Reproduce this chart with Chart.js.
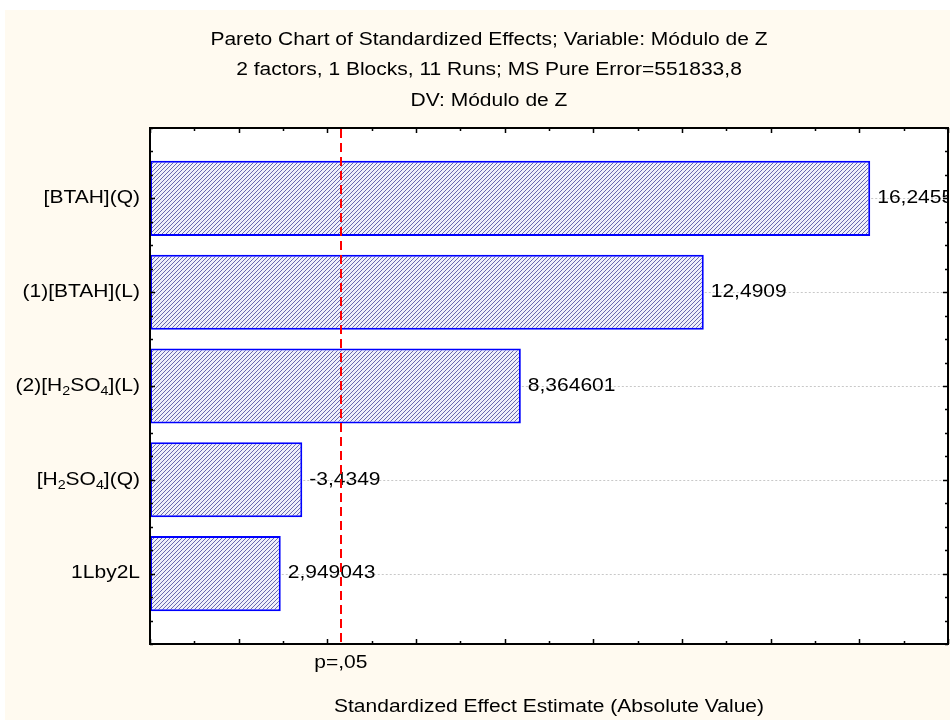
<!DOCTYPE html>
<html><head><meta charset="utf-8">
<script src="https://cdn.jsdelivr.net/npm/chart.js@4.4.0/dist/chart.umd.min.js"></script>
<style>html,body{margin:0;padding:0;background:#fff;}canvas{display:block;}</style>
</head><body>
<canvas id="c" width="950" height="720"></canvas>
<script>
// ---- data ----
const categories = ['[BTAH](Q)', '(1)[BTAH](L)', '(2)[H₂SO₄](L)', '[H₂SO₄](Q)', '1Lby2L'];
const effects = [16.2455, 12.4909, 8.364601, -3.4349, 2.949043];
const effectLabels = ['16,2455', '12,4909', '8,364601', '-3,4349', '2,949043'];
const criticalT = 4.303;
const criticalLabel = 'p=,05';
const titleLines = [
  'Pareto Chart of Standardized Effects; Variable: Módulo de Z',
  '2 factors, 1 Blocks, 11 Runs; MS Pure Error=551833,8',
  'DV: Módulo de Z'
];
const xAxisTitle = 'Standardized Effect Estimate (Absolute Value)';

const FONT = '"Liberation Sans", Arial, sans-serif';
const FS = 17.5;      // glyph height
const SX = 1.2;       // horizontal stretch of the text

// hatch pattern
function makeHatch() {
  const t = document.createElement('canvas');
  t.width = 4; t.height = 4;
  const g = t.getContext('2d');
  g.fillStyle = '#efeffa';
  g.fillRect(0, 0, 4, 4);
  g.fillStyle = '#6a6aae';
  for (let i = 0; i < 4; i++) { g.fillRect(i, 3 - i, 1, 1); }
  return g.createPattern(t, 'repeat');
}

const SUB = {'₀':'0','₁':'1','₂':'2','₃':'3','₄':'4','₅':'5','₆':'6','₇':'7','₈':'8','₉':'9'};
function richRuns(text) {
  const runs = [];
  for (const ch of text) {
    const sub = ch in SUB;
    const c = sub ? SUB[ch] : ch;
    if (runs.length && runs[runs.length - 1].sub === sub) runs[runs.length - 1].t += c;
    else runs.push({t: c, sub});
  }
  return runs;
}
// draw stretched text; align: 'left' | 'center' | 'right'
function drawText(ctx, text, x, y, align) {
  const runs = richRuns(text);
  let w = 0;
  for (const r of runs) {
    ctx.font = (r.sub ? FS * 0.68 : FS) + 'px ' + FONT;
    r.w = ctx.measureText(r.t).width * SX; w += r.w;
  }
  let x0 = align === 'right' ? x - w : align === 'center' ? x - w / 2 : x;
  ctx.textAlign = 'left'; ctx.textBaseline = 'middle';
  for (const r of runs) {
    ctx.font = (r.sub ? FS * 0.68 : FS) + 'px ' + FONT;
    ctx.save();
    ctx.translate(x0, r.sub ? y + FS * 0.32 : y);
    ctx.scale(SX, 1);
    ctx.fillText(r.t, 0, 0);
    ctx.restore();
    x0 += r.w;
  }
}

const paretoPlugin = {
  id: 'pareto',
  beforeDraw(chart) {
    const ctx = chart.ctx, a = chart.chartArea;
    ctx.save();
    ctx.fillStyle = '#ffffff';
    ctx.fillRect(0, 0, chart.width, chart.height);
    ctx.fillStyle = '#fffaf0';
    ctx.fillRect(5, 10, chart.width - 5, chart.height - 10);
    ctx.fillStyle = '#ffffff';
    ctx.fillRect(a.left, a.top, a.right - a.left, a.bottom - a.top);
    ctx.restore();
  },
  afterDatasetsDraw(chart) {
    const ctx = chart.ctx, a = chart.chartArea;
    const xs = chart.scales.x, ys = chart.scales.y;
    ctx.save();
    // dotted guide lines from bar end to right border
    ctx.strokeStyle = '#c8c8c8';
    ctx.lineWidth = 1;
    ctx.setLineDash([2, 2]);
    effects.forEach((v, i) => {
      const y = Math.round(ys.getPixelForValue(i)) + 0.5;
      ctx.beginPath();
      ctx.moveTo(xs.getPixelForValue(Math.abs(v)) + 1, y);
      ctx.lineTo(a.right, y);
      ctx.stroke();
    });
    ctx.setLineDash([]);
    // value labels
    ctx.fillStyle = '#000';
    effects.forEach((v, i) => {
      drawText(ctx, effectLabels[i], xs.getPixelForValue(Math.abs(v)) + 7, ys.getPixelForValue(i), 'left');
    });
    // cream page outside the right border hides label overflow
    ctx.fillStyle = '#fffaf0';
    ctx.fillRect(a.right, a.top - 2, chart.width - a.right, a.bottom - a.top + 4);
    // border
    ctx.strokeStyle = '#000';
    ctx.lineWidth = 2;
    ctx.strokeRect(a.left, a.top, a.right - a.left, a.bottom - a.top);
    // x ticks (inward, top & bottom)
    ctx.lineWidth = 1.5;
    for (let v = xs.min; v <= xs.max; v += 1) {
      const x = Math.round(xs.getPixelForValue(v)) + 0.5;
      const len = (v % 2 === 0) ? 5 : 3;
      ctx.beginPath();
      ctx.moveTo(x, a.bottom); ctx.lineTo(x, a.bottom - len);
      ctx.moveTo(x, a.top); ctx.lineTo(x, a.top + len);
      ctx.stroke();
    }
    // y ticks (inward, left & right)
    for (let k = 0; k <= 22; k++) {
      const v = ys.min + k * 0.25;
      const y = Math.round(ys.getPixelForValue(v)) + 0.5;
      const len = (Math.abs(v - Math.round(v)) < 1e-6) ? 5 : 3;
      ctx.beginPath();
      ctx.moveTo(a.left, y); ctx.lineTo(a.left + len, y);
      ctx.moveTo(a.right, y); ctx.lineTo(a.right - len, y);
      ctx.stroke();
    }
    // category labels
    ctx.fillStyle = '#000';
    categories.forEach((c, i) => {
      drawText(ctx, c, a.left - 10, ys.getPixelForValue(i), 'right');
    });
    // critical value label
    drawText(ctx, criticalLabel, xs.getPixelForValue(criticalT), a.bottom + 19, 'center');
    // axis title
    drawText(ctx, xAxisTitle, (a.left + a.right) / 2, a.bottom + 63, 'center');
    // titles
    titleLines.forEach((t, i) => drawText(ctx, t, 489, 40 + i * 30.5, 'center'));
    // critical line
    ctx.strokeStyle = '#ff0000';
    ctx.lineWidth = 2;
    ctx.setLineDash([9, 5]);
    const cx = Math.round(xs.getPixelForValue(criticalT));
    ctx.beginPath();
    ctx.moveTo(cx, a.top + 1); ctx.lineTo(cx, a.bottom);
    ctx.stroke();
    ctx.restore();
  }
};

const ctx = document.getElementById('c').getContext('2d');
new Chart(ctx, {
  type: 'bar',
  data: {
    datasets: [{
      data: effects.map((v, i) => ({x: Math.abs(v), y: i})),
      backgroundColor: makeHatch(),
      borderColor: '#0000ff',
      borderWidth: 2,
      borderSkipped: false,
      barPercentage: 0.8,
      categoryPercentage: 1.0
    }]
  },
  options: {
    indexAxis: 'y',
    responsive: false,
    devicePixelRatio: 1,
    animation: false,
    layout: {padding: {left: 150, right: 2, top: 128, bottom: 76}},
    plugins: {legend: {display: false}, tooltip: {enabled: false}, title: {display: false}},
    scales: {
      x: {type: 'linear', min: 0, max: 18, display: false, offset: false},
      y: {type: 'linear', min: -0.75, max: 4.75, reverse: true, display: false, offset: false,
          ticks: {stepSize: 1, includeBounds: false}}
    }
  },
  plugins: [paretoPlugin]
});
</script>
</body></html>
